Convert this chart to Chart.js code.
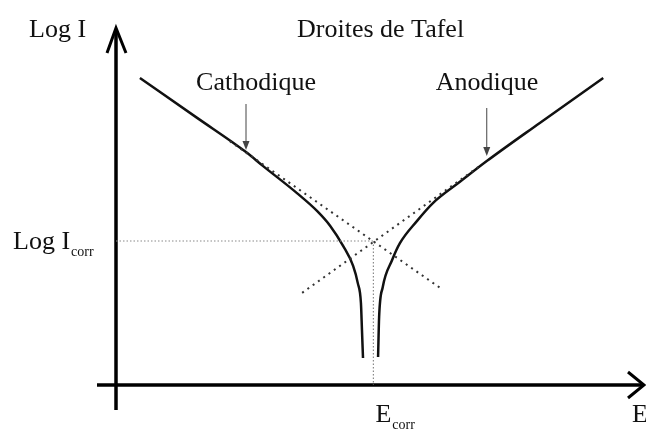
<!DOCTYPE html>
<html lang="fr">
<head>
<meta charset="utf-8">
<title>Droites de Tafel</title>
<script src="https://cdn.jsdelivr.net/npm/chart.js@4"></script>
<style>
    html, body { margin: 0; padding: 0; background: #ffffff; }
    .wrap { position: relative; width: 646px; height: 439px; }
</style>
</head>
<body>
<div class="wrap"><canvas id="tafelChart"></canvas></div>
<script>
// potential E (arbitrary units) and log I for each branch
const cathodicE = [0.46, 1.56, 2.5, 2.83, 3.48, 3.87, 4.12, 4.37, 4.56, 4.65, 4.71, 4.73, 4.75];
const cathodicLogI = [8.53, 7.42, 6.47, 6.08, 5.33, 4.83, 4.42, 3.86, 3.31, 2.83, 2.28, 1.53, 0.75];

const anodicE = [5.04, 5.06, 5.13, 5.31, 5.46, 5.79, 6.10, 6.62, 7.13, 8.15, 9.37];
const anodicLogI = [0.78, 1.89, 2.72, 3.47, 3.94, 4.56, 5.06, 5.65, 6.22, 7.28, 8.53];

// Tafel straight lines (end points)
const cathodicTafelE = [2.19, 6.29];
const cathodicTafelLogI = [6.77, 2.64];
const anodicTafelE = [3.58, 7.0];
const anodicTafelLogI = [2.56, 6.09];

const E_CORR = 4.95;
const LOG_I_CORR = 4.0;

const labels = {
    title: "Droites de Tafel",
    yAxis: "Log I",
    xAxis: "E",
    cathodic: "Cathodique",
    anodic: "Anodique",
    sub: "corr"
};

const toPoints = (xs, ys) => xs.map((x, i) => ({ x: x, y: ys[i] }));

const SERIF = "'Liberation Serif', 'Times New Roman', serif";

const tafelAxes = {
    id: "tafelAxes",
    beforeDatasetsDraw(chart) {
        const { ctx, scales: { x, y } } = chart;
        const x0 = x.getPixelForValue(0);
        const y0 = y.getPixelForValue(0);
        ctx.save();
        ctx.strokeStyle = "#000";
        ctx.lineWidth = 3.5;
        ctx.lineJoin = "miter";

        // vertical axis
        ctx.beginPath();
        ctx.moveTo(x0, y0 + 25);
        ctx.lineTo(x0, 29);
        ctx.stroke();
        ctx.lineWidth = 3;
        ctx.beginPath();
        ctx.moveTo(x0 - 9, 53);
        ctx.lineTo(x0, 28);
        ctx.lineTo(x0 + 10, 53);
        ctx.stroke();

        // horizontal axis
        ctx.lineWidth = 3.5;
        ctx.beginPath();
        ctx.moveTo(x0 - 19, y0);
        ctx.lineTo(642, y0);
        ctx.stroke();
        ctx.lineWidth = 3;
        ctx.beginPath();
        ctx.moveTo(628, y0 - 13);
        ctx.lineTo(644, y0);
        ctx.lineTo(628, y0 + 13);
        ctx.stroke();
        ctx.restore();
    },
    afterDraw(chart) {
        const { ctx, scales: { x, y } } = chart;
        ctx.save();
        ctx.fillStyle = "#111";
        ctx.textBaseline = "alphabetic";
        ctx.textAlign = "left";
        ctx.font = "26px " + SERIF;

        ctx.fillText(labels.yAxis, 29, 37);
        ctx.fillText(labels.title, 297, 37);
        ctx.fillText(labels.xAxis, 632, 422);

        // Log I_corr
        const yc = y.getPixelForValue(LOG_I_CORR);
        ctx.fillText(labels.yAxis, 13, yc + 8);
        let w = ctx.measureText(labels.yAxis).width;
        ctx.font = "14px " + SERIF;
        ctx.fillText(labels.sub, 13 + w + 1, yc + 15);

        // E_corr
        const xc = x.getPixelForValue(E_CORR);
        ctx.font = "26px " + SERIF;
        ctx.fillText(labels.xAxis, xc + 2, 422);
        w = ctx.measureText(labels.xAxis).width;
        ctx.font = "14px " + SERIF;
        ctx.fillText(labels.sub, xc + 2 + w + 1, 429);

        // branch names with pointer arrows
        ctx.font = "26px " + SERIF;
        ctx.textAlign = "center";
        ctx.fillText(labels.cathodic, 256, 90);
        ctx.fillText(labels.anodic, 487, 90);

        const pointer = (px, top, tip) => {
            ctx.strokeStyle = "#444";
            ctx.fillStyle = "#444";
            ctx.lineWidth = 1;
            ctx.beginPath();
            ctx.moveTo(px, top);
            ctx.lineTo(px, tip - 4);
            ctx.stroke();
            ctx.beginPath();
            ctx.moveTo(px - 3.5, tip - 9);
            ctx.lineTo(px, tip);
            ctx.lineTo(px + 3.5, tip - 9);
            ctx.closePath();
            ctx.fill();
        };
        pointer(x.getPixelForValue(2.5), 104, 150);
        pointer(x.getPixelForValue(7.13), 108, 156);
        ctx.restore();
    }
};

new Chart(document.getElementById("tafelChart"), {
    type: "scatter",
    data: {
        datasets: [
            {
                // Icorr guides
                data: [{ x: 0, y: LOG_I_CORR }, { x: E_CORR, y: LOG_I_CORR }],
                borderColor: "#8a8a8a",
                borderWidth: 1.2,
                borderDash: [1.5, 2]
            },
            {
                data: [{ x: E_CORR, y: LOG_I_CORR }, { x: E_CORR, y: 0 }],
                borderColor: "#8a8a8a",
                borderWidth: 1.2,
                borderDash: [1.5, 2]
            },
            {
                data: toPoints(cathodicTafelE, cathodicTafelLogI),
                borderColor: "#333",
                borderWidth: 2,
                borderDash: [2, 4.5]
            },
            {
                data: toPoints(anodicTafelE, anodicTafelLogI),
                borderColor: "#333",
                borderWidth: 2,
                borderDash: [2, 4.5]
            },
            {
                data: toPoints(cathodicE, cathodicLogI),
                borderColor: "#111",
                borderWidth: 2.5,
                cubicInterpolationMode: "monotone"
            },
            {
                data: toPoints(anodicE, anodicLogI),
                borderColor: "#111",
                borderWidth: 2.5,
                cubicInterpolationMode: "monotone"
            }
        ].map((ds) => Object.assign({ showLine: true, pointRadius: 0, fill: false }, ds))
    },
    options: {
        responsive: true,
        maintainAspectRatio: false,
        animation: false,
        layout: { padding: { left: 116, right: 10, top: 25, bottom: 54 } },
        plugins: {
            legend: { display: false },
            tooltip: { enabled: false }
        },
        scales: {
            x: { type: "linear", min: 0, max: 10, display: false },
            y: { type: "linear", min: 0, max: 10, display: false }
        }
    },
    plugins: [tafelAxes]
});
</script>
</body>
</html>
